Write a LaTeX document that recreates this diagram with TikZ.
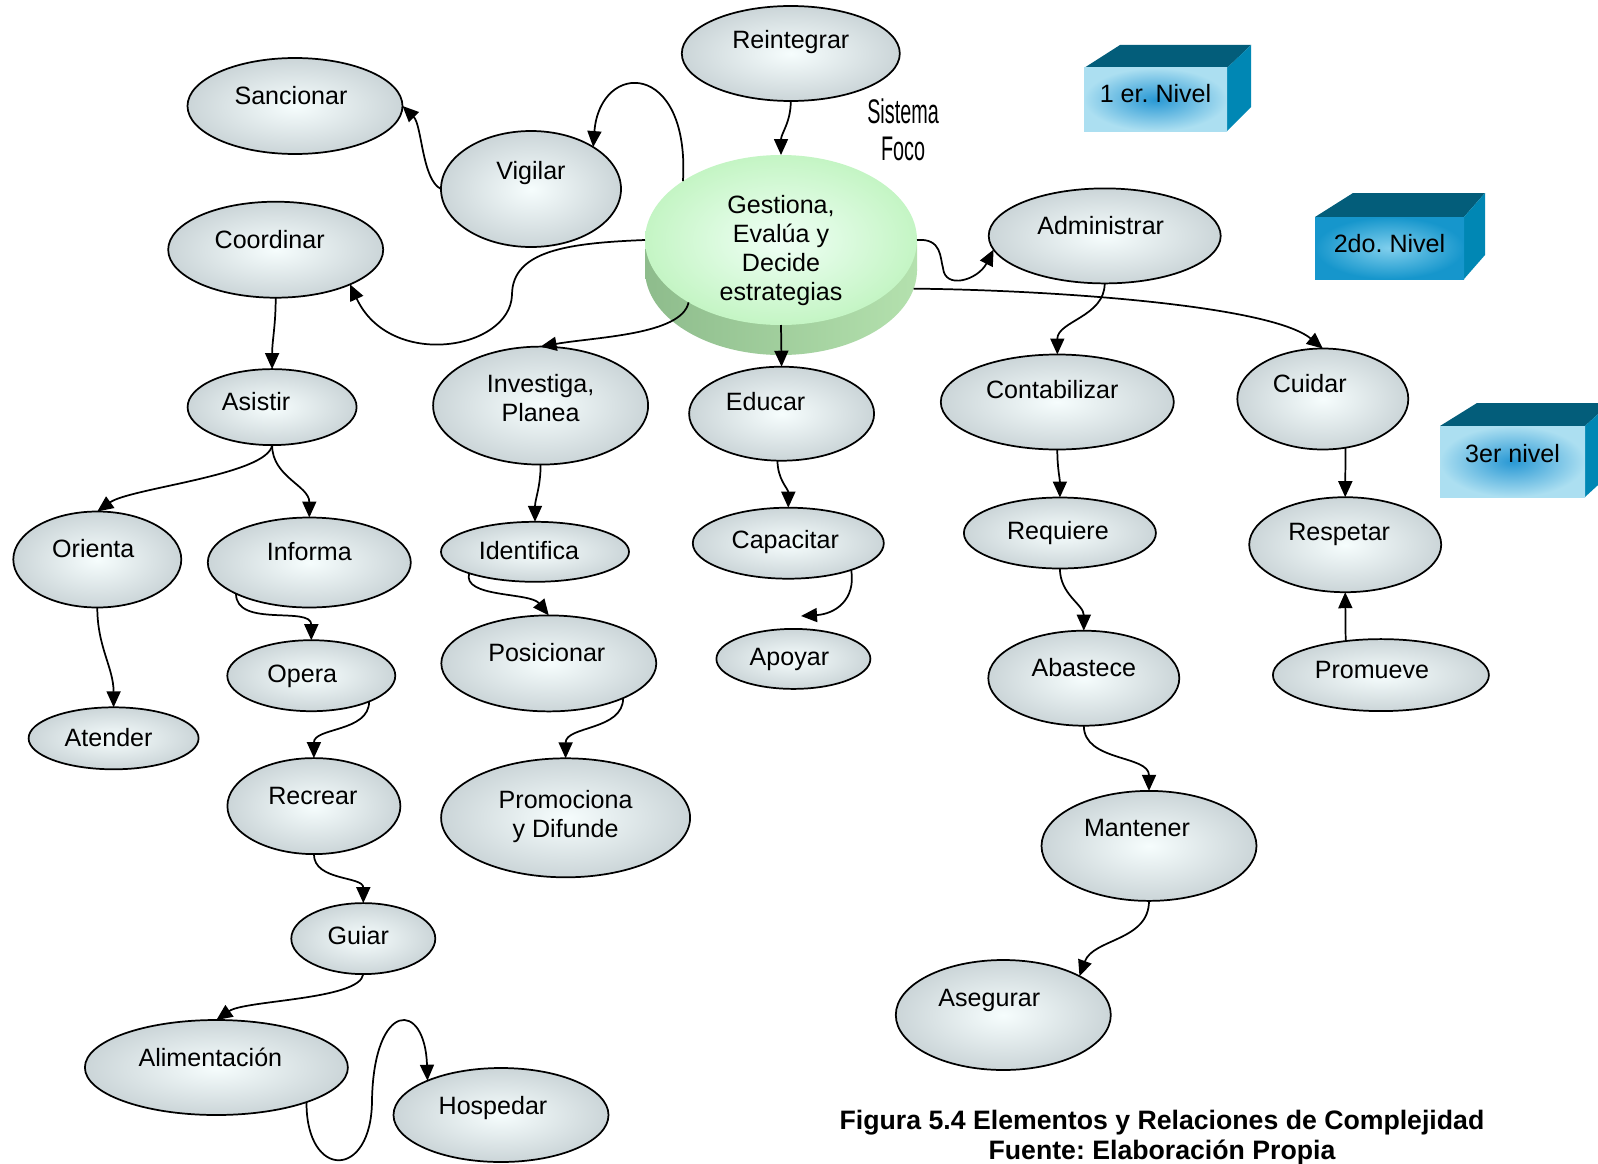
\documentclass[tikz,border=0pt]{standalone}
\usepackage{fontspec}
\usepackage{graphicx}
\setmainfont{Liberation Sans}
\frenchspacing
\usetikzlibrary{shapes.geometric,arrows.meta}
\newlength\pxu
\setlength\pxu{0.75pt}
\newcommand\ntext[3]{\raisebox{#2\pxu}[0pt][0pt]{\makebox[0pt]{\hspace*{#1\pxu}\hspace*{#1\pxu}\begin{tabular}{@{}c@{}}#3\end{tabular}}}}
\definecolor{ellin}{RGB}{246,253,253}
\definecolor{ellout}{RGB}{203,213,216}
\definecolor{grin}{RGB}{240,255,246}
\definecolor{grout}{RGB}{196,245,196}
\definecolor{sideL}{RGB}{142,188,140}
\definecolor{sideR}{RGB}{180,225,174}
\definecolor{lvEdge}{RGB}{172,223,241}
\definecolor{lvCent}{RGB}{40,152,212}
\definecolor{lvEdgeB}{RGB}{22,150,204}
\definecolor{lvCentB}{RGB}{128,207,237}
\definecolor{topc}{RGB}{3,93,122}
\definecolor{sidec}{RGB}{0,135,180}
\tikzset{
  ell/.style={ellipse, draw=black, line width=1.3pt, inner sep=0pt, outer sep=0pt, inner color=ellin, outer color=ellout},
  sz/.style 2 args={minimum width=#1*0.75pt, minimum height=#2*0.75pt},
  arr/.style={-{Triangle[length=12pt,width=10.5pt]}, line width=1.3pt},
  lvl/.style 2 args={rectangle, inner sep=0pt, outer sep=0pt, inner color=#2, outer color=#1},
}
\begin{document}
\begin{tikzpicture}[x=0.75pt, y=-0.75pt, font=\fontsize{18.8}{21.75}\selectfont]
\useasboundingbox (0,0) rectangle (1598,1163);
\clip (0,0) rectangle (1598,1163);
\fill[white] (0,0) rectangle (1598,1163);

% level boxes
\fill[topc] (1084,68) -- (1120,45) -- (1251,45) -- (1227,68) -- cycle;
\fill[sidec] (1227,68) -- (1251,45) -- (1251,107) -- (1227,131) -- cycle;
\node[lvl={lvEdge}{lvCent}, sz={143}{63}] (n1) at (1155.5,99.5) {\ntext{0}{-2.7}{1 er. Nivel}};

\fill[topc] (1315,217) -- (1353,193) -- (1485,193) -- (1464,217) -- cycle;
\fill[sidec] (1464,217) -- (1485,193) -- (1485,255) -- (1464,279) -- cycle;
\node[lvl={lvEdgeB}{lvCentB}, sz={149}{62}] (n2) at (1389.5,248) {\ntext{0}{-4.2}{2do. Nivel}};

\fill[topc] (1440,426) -- (1477,403) -- (1610,403) -- (1585,426) -- cycle;
\fill[sidec] (1585,426) -- (1610,403) -- (1610,474) -- (1585,497) -- cycle;
\node[lvl={lvEdge}{lvCent}, sz={145}{71}] (n3) at (1512.5,461.5) {\ntext{0}{-0.7}{3er nivel}};

% Sistema Foco
\node[font=\fontsize{25.6}{27.75}\selectfont, inner sep=0pt] (sist) at (903,135) {\scalebox{0.58}[1]{\begin{tabular}{@{}c@{}}Sistema\\Foco\end{tabular}}};

% central disk
\fill[left color=sideL, right color=sideR] (645,240) rectangle (917,270);
\node[ellipse, sz={272}{170}, inner sep=0pt, outer sep=0pt, left color=sideL, right color=sideR] (cb) at (781,270) {};
\node[ellipse, sz={272}{170}, inner sep=0pt, outer sep=0pt, inner color=grin, outer color=grout] (central) at (781,240) {\ntext{0}{-16.7}{Gestiona,\\Evalúa y\\Decide\\estrategias}};

% ellipses
\node[ell, sz={218}{95}] (reint) at (790.8,53.5) {\ntext{0}{4.6}{Reintegrar}};
\node[ell, sz={215}{96}] (sanc) at (295,106) {\ntext{-4}{2.0}{Sancionar}};
\node[ell, sz={180}{116}] (vig) at (531,189) {\ntext{0}{9.8}{Vigilar}};
\node[ell, sz={215}{96}] (coord) at (275.7,249.7) {\ntext{-6}{1.0}{Coordinar}};
\node[ell, sz={232}{95}] (admin) at (1104.7,235.9) {\ntext{-4}{1.5}{Administrar}};
\node[ell, sz={169}{76}] (asist) at (272.1,407.1) {\ntext{-16}{-3.6}{Asistir}};
\node[ell, sz={215}{118}] (inv) at (540.6,405.6) {\ntext{0}{-1.6}{Investiga,\\Planea}};
\node[ell, sz={185}{94}] (educ) at (781.6,413.7) {\ntext{-16}{3.0}{Educar}};
\node[ell, sz={233}{95}] (cont) at (1057.3,402) {\ntext{-5}{3.5}{Contabilizar}};
\node[ell, sz={171}{101}] (cuid) at (1322.8,399) {\ntext{-13}{6.6}{Cuidar}};
\node[ell, sz={168}{96}] (orient) at (97.3,559.5) {\ntext{-4}{2.0}{Orienta}};
\node[ell, sz={203}{90}] (inform) at (309.3,562.5) {\ntext{0}{2.0}{Informa}};
\node[ell, sz={188}{60}] (ident) at (535,551.8) {\ntext{-6}{-7.7}{Identifica}};
\node[ell, sz={191}{71}] (capac) at (788.3,543.2) {\ntext{-3}{-5.1}{Capacitar}};
\node[ell, sz={192}{71}] (req) at (1059.9,533) {\ntext{-2}{-6.1}{Requiere}};
\node[ell, sz={192}{95}] (resp) at (1345.2,544.7) {\ntext{-6}{4.5}{Respetar}};
\node[ell, sz={168}{71}] (opera) at (311.3,675.7) {\ntext{-9}{-7.1}{Opera}};
\node[ell, sz={215}{96}] (posic) at (548.8,663.4) {\ntext{-2}{2.0}{Posicionar}};
\node[ell, sz={154}{60}] (apoy) at (793.4,658.9) {\ntext{-4}{-6.6}{Apoyar}};
\node[ell, sz={191}{95}] (abast) at (1083.8,678.2) {\ntext{0}{1.5}{Abastece}};
\node[ell, sz={216}{72}] (promv) at (1380.9,675.1) {\ntext{-9}{-3.6}{Promueve}};
\node[ell, sz={170}{62}] (atend) at (113.6,738.3) {\ntext{-5}{-7.7}{Atender}};
\node[ell, sz={173}{96}] (recr) at (313.9,806.1) {\ntext{-1}{2.0}{Recrear}};
\node[ell, sz={249}{119}] (promo) at (565.6,817.8) {\ntext{0}{-5.2}{Promociona\\y Difunde}};
\node[ell, sz={215}{110}] (mant) at (1149,845.9) {\ntext{-12}{9.2}{Mantener}};
\node[ell, sz={144}{71}] (guiar) at (363.3,938.6) {\ntext{-5}{-6.1}{Guiar}};
\node[ell, sz={215}{110}] (aseg) at (1003.3,1015) {\ntext{-14}{8.1}{Asegurar}};
\node[ell, sz={263}{95}] (alim) at (216.4,1067.5) {\ntext{-6}{0.6}{Alimentación}};
\node[ell, sz={215}{94}] (hosp) at (501,1115) {\ntext{-8}{0.1}{Hospedar}};

\coordinate (apoyin) at (801,616);

% connectors
\draw[arr] (reint.south) to[out=-90,in=90] (central.north);
\draw[arr] (central.149) .. controls (690,60) and (600,60) .. (vig.34);
\draw[arr] (vig.west) .. controls (422,180) and (422,125) .. (sanc.east);
\draw[arr] (central.west) .. controls (570,243) and (512,250) .. (512,295) .. controls (510,350) and (390,370) .. (coord.-25);
\draw[arr] (central.-146) .. controls (682,335) and (595,337) .. (inv.north);
\draw[arr] (central.south) -- (educ.north);
\draw[arr] (central.east) .. controls (942,238) and (940,258) .. (943,268) .. controls (945,290) and (978,280) .. (admin.-173);
\draw[arr] (cb.-8) .. controls (1050,290) and (1270,305) .. (cuid.north);
\draw[arr] (admin.south) to[out=-90,in=90] (cont.north);
\draw[arr] (coord.south) to[out=-90,in=90] (asist.north);
\draw[arr] (asist.south) .. controls (268,475) and (130,488) .. (orient.north);
\draw[arr] (asist.south) to[out=-90,in=90] (inform.north);
\draw[arr] (inv.south) to[out=-90,in=90] (ident.north);
\draw[arr] (educ.-95) to[out=-90,in=90] (capac.north);
\draw[arr] (capac.-23) .. controls (856,600) and (835,614) .. (apoyin);
\draw[arr] (ident.-162) .. controls (462,598) and (530,592) .. (posic.north);
\draw[arr] (posic.-25) to[out=-90,in=90] (promo.north);
\draw[arr] (inform.-157) to[out=-90,in=90] (opera.north);
\draw[arr] (opera.-24) to[out=-90,in=90] (recr.north);
\draw[arr] (recr.south) to[out=-90,in=90] (guiar.north);
\draw[arr] (guiar.south) .. controls (360,1000) and (245,1000) .. (alim.north);
\draw[arr] (alim.-21) .. controls (306,1180) and (372,1180) .. (372,1100) .. controls (374,1000) and (425,1000) .. (hosp.155);
\draw[arr] (orient.south) to[out=-90,in=90] (atend.north);
\draw[arr] (cont.south) to[out=-90,in=90] (req.north);
\draw[arr] (req.south) to[out=-90,in=90] (abast.north);
\draw[arr] (abast.south) to[out=-90,in=90] (mant.north);
\draw[arr] (mant.south) to[out=-90,in=70] (aseg.27);
\draw[arr] (cuid.-65) -- (resp.north);
\draw[arr] (promv.136) -- (resp.south);

% caption
\node[font=\fontsize{20}{22.1}\selectfont\bfseries, align=center, inner sep=0pt] (cap) at (1162,1137.5) {Figura 5.4 Elementos y Relaciones de Complejidad\\Fuente: Elaboración Propia};
\end{tikzpicture}
\end{document}
